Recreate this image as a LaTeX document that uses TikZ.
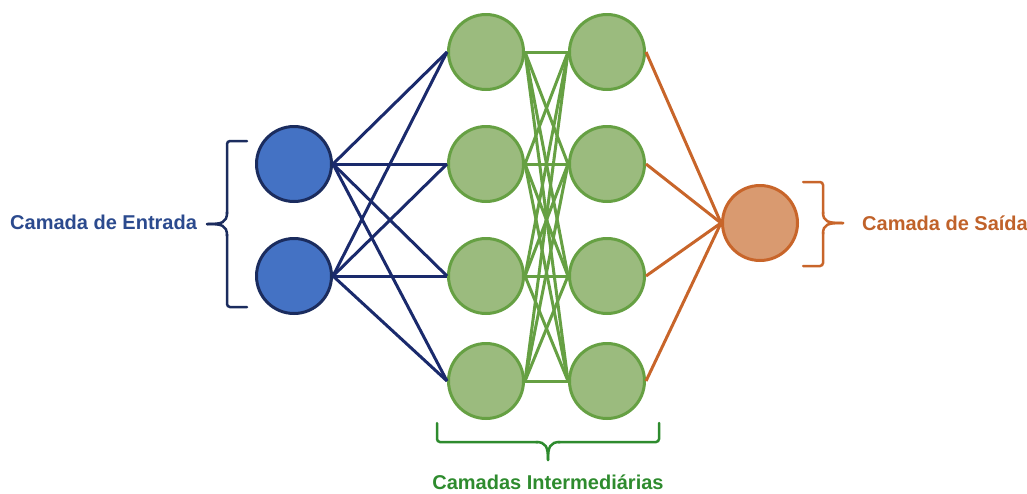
\documentclass[tikz,border=0pt]{standalone}
\usepackage{fontspec}
\setmainfont{Liberation Sans}
\definecolor{inFill}{HTML}{4472C4}
\definecolor{inDraw}{HTML}{1B2C5E}
\definecolor{inLine}{HTML}{1A2A6C}
\definecolor{inText}{HTML}{2B4A8E}
\definecolor{hidFill}{HTML}{9BBB7E}
\definecolor{hidDraw}{HTML}{66A043}
\definecolor{hidText}{HTML}{2E8B2E}
\definecolor{outFill}{HTML}{D99A70}
\definecolor{outDraw}{HTML}{C8652A}
\definecolor{outText}{HTML}{C0622A}
\tikzset{
  neuron/.style={circle, minimum size=75pt, inner sep=0pt, line width=3pt},
  inneuron/.style={neuron, fill=inFill, draw=inDraw},
  hidneuron/.style={neuron, fill=hidFill, draw=hidDraw},
  outneuron/.style={neuron, fill=outFill, draw=outDraw},
  inconn/.style={draw=inLine, line width=3pt},
  hidconn/.style={draw=hidDraw, line width=3pt},
  outconn/.style={draw=outDraw, line width=3pt},
  lbl/.style={font=\fontsize{20}{24}\selectfont\bfseries, inner sep=0pt},
  bracepath/.style={line width=2.5pt, line cap=round}
}
\begin{document}
\begin{tikzpicture}[x=1pt, y=-1pt]
\useasboundingbox (0,0) rectangle (1027,493);
% nodes
\node[inneuron] (i1) at (294,164) {};
\node[inneuron] (i2) at (294,276) {};
\foreach \k/\y in {1/52,2/164,3/276,4/381}{
  \node[hidneuron] (a\k) at (486,\y) {};
  \node[hidneuron] (b\k) at (607,\y) {};
}
\node[outneuron] (o) at (760,223) {};
% connectors
\foreach \i in {1,2}{
  \foreach \k in {1,2,3,4}{
    \draw[inconn] (i\i.east) -- (a\k.west);
  }
}
\foreach \k in {1,2,3,4}{
  \foreach \j in {1,2,3,4}{
    \draw[hidconn] (a\k.east) -- (b\j.west);
  }
  \draw[outconn] (b\k.east) -- (o.west);
}
% braces
\draw[bracepath, inDraw, rounded corners=3pt] (247,141) -- (227,141) -- (227,214);
\draw[bracepath, inDraw] (227,212) .. controls (227,223) and (222,224) .. (207,224);
\draw[bracepath, inDraw] (227,236) .. controls (227,225) and (222,224) .. (207,224);
\draw[bracepath, inDraw, rounded corners=3pt] (227,234) -- (227,307) -- (247,307);
\draw[bracepath, outDraw, rounded corners=3pt] (803,182) -- (823,182) -- (823,214);
\draw[bracepath, outDraw] (823,212) .. controls (823,222) and (828,223) .. (843,223);
\draw[bracepath, outDraw] (823,234) .. controls (823,224) and (828,223) .. (843,223);
\draw[bracepath, outDraw, rounded corners=3pt] (823,232) -- (823,266) -- (803,266);
\draw[bracepath, hidText, rounded corners=3pt] (437,423) -- (437,442) -- (538,442);
\draw[bracepath, hidText] (536,442) .. controls (546,442) and (548,447) .. (548,460);
\draw[bracepath, hidText] (560,442) .. controls (550,442) and (548,447) .. (548,460);
\draw[bracepath, hidText, rounded corners=3pt] (558,442) -- (659,442) -- (659,423);
% labels
\node[lbl, text=inText, anchor=west] (tin) at (10,222) {Camada de Entrada};
\node[lbl, text=outText, anchor=west] (tout) at (862,223) {Camada de Saída};
\node[lbl, text=hidText, anchor=base] (thid) at (548,489) {Camadas Intermediárias};
\end{tikzpicture}
\end{document}
